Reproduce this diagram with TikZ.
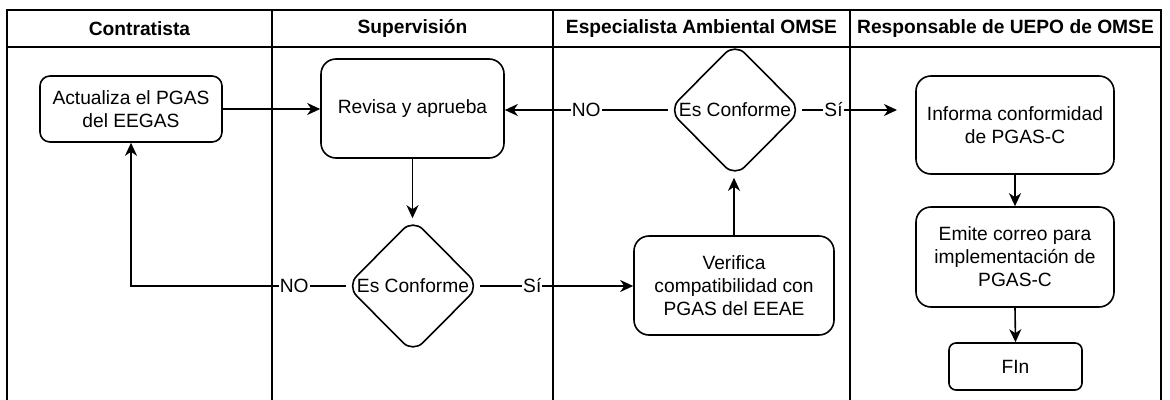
\documentclass[tikz,border=0pt]{standalone}
\usepackage{fontspec}
\setmainfont{Liberation Sans}
\usetikzlibrary{arrows.meta,shapes.geometric}
\begin{document}
\begin{tikzpicture}[x=1pt,y=-1pt,
  ln/.style={line width=1.6pt},
  box/.style={draw,line width=1.6pt,align=center,inner sep=0pt,font=\fontsize{19.2}{23}\selectfont},
  dia/.style={draw,diamond,line width=1.6pt,rounded corners=14pt,inner sep=0pt,minimum width=133pt,minimum height=134pt,font=\fontsize{19.2}{23}\selectfont},
  hdr/.style={font=\bfseries\fontsize{19.2}{23}\selectfont},
  lbl/.style={fill=white,inner sep=1pt,font=\fontsize{19.2}{23}\selectfont},
  arr/.style={line width=1.6pt,-{Stealth[length=13pt,width=12pt,inset=4pt]}},
]
\useasboundingbox (0,0) rectangle (1170,399);
% frame and lanes
\draw[ln] (7,400) -- (7,10) -- (1161,10) -- (1161,400);
\draw[ln] (7,47) -- (1161,47);
\draw[ln] (272,10) -- (272,400);
\draw[ln] (553,10) -- (553,400);
\draw[ln] (850,10) -- (850,400);
% headers
\node[hdr] (h1) at (139.5,28.5) {Contratista};
\node[hdr] (h2) at (412.5,28.5) {Supervisión};
\node[hdr] (h3) at (701.5,28.5) {Especialista Ambiental OMSE};
\node[hdr] (h4) at (1005.5,28.5) {Responsable de UEPO de OMSE};
% nodes
\node[box, rounded corners=10pt, minimum width=182pt, minimum height=66pt] (act) at (131,109) {Actualiza el PGAS\\del EEGAS};
\node[box, rounded corners=15pt, minimum width=183pt, minimum height=99pt] (rev) at (412.5,108.5) {Revisa y aprueba};
\node[dia] (d1) at (413,286) {Es Conforme};
\node[dia] (d2) at (735,110) {Es Conforme};
\node[box, rounded corners=15pt, minimum width=200pt, minimum height=99pt] (ver) at (734,285.5) {Verifica\\compatibilidad con\\PGAS del EEAE};
\node[box, rounded corners=15pt, minimum width=198pt, minimum height=98pt] (inf) at (1015,125) {Informa conformidad\\de PGAS-C};
\node[box, rounded corners=15pt, minimum width=198pt, minimum height=100pt] (emi) at (1015,257) {Emite correo para\\implementación de\\PGAS-C};
\node[box, rounded corners=7pt, minimum width=133pt, minimum height=47pt] (fin) at (1015.5,366.5) {FIn};
\coordinate (sitip) at (897,110);
% connectors
\draw[arr] (act.east) -- (rev.west |- act.east);
\draw[arr] (rev.south) -- (rev.south |- d1.north);
\draw[arr] (d1.west) -| node[lbl,pos=0.12]{NO} (act.south);
\draw[arr] (d1.east) -- node[lbl,pos=0.34]{Sí} (ver.west |- d1.east);
\draw[arr] (ver.north) -- (ver.north |- d2.south);
\draw[arr] (d2.west) -- node[lbl]{NO} (rev.east |- d2.west);
\draw[arr] (d2.east) -- node[lbl,pos=0.33]{Sí} (sitip);
\draw[arr] (inf.south) -- (emi.north);
\draw[arr] (emi.south) -- (fin.north);
\end{tikzpicture}
\end{document}
